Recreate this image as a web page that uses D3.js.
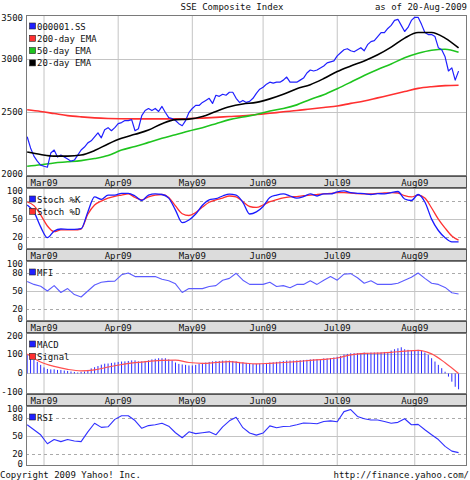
<!DOCTYPE html>
<html><head><meta charset="utf-8">
<script src="https://cdn.jsdelivr.net/npm/d3@7"></script>
<style>
body{margin:0;background:#fff}
svg{display:block}
text{font-family:"DejaVu Sans Mono","Liberation Mono",monospace;font-size:9px;fill:#111}
</style>
</head><body>
<svg id="c" width="470" height="480"></svg>
<script>
// ---- data (weekday index 0 = 23-Feb-2009, last = 20-Aug-2009) ----
const months   = ["Mar09","Apr09","May09","Jun09","Jul09","Aug09"];
const monthDay = [5, 27, 49, 70, 92, 115];

const close = [2292,2205,2143,2106,2077,2069,2062,2166,2189,2136,
  2151,2136,2121,2106,2114,2151,2189,2212,2244,2260,
  2292,2324,2284,2349,2366,2341,2366,2399,2408,2425,
  2425,2433,2341,2357,2467,2511,2529,2511,2529,2503,
  2547,2494,2450,2442,2425,2399,2382,2425,2494,2529,
  2556,2556,2583,2601,2620,2574,2648,2638,2657,2648,
  2676,2676,2620,2583,2601,2583,2592,2620,2666,2704,
  2723,2752,2771,2762,2771,2771,2791,2821,2771,2771,
  2771,2791,2811,2861,2891,2881,2891,2912,2932,2963,
  2974,2984,3037,3070,3102,3113,3091,3080,3102,3124,
  3091,3157,3191,3202,3247,3293,3293,3340,3376,3435,
  3448,3376,3305,3352,3435,3472,3472,3388,3293,3270,
  3270,3247,3124,3102,3026,2881,2912,2791,2880];

// EMAs sampled every 4 weekdays
const ema200 = [2518,2503,2485,2467,2456,2448,2443,2440,2439,2439,2439,2439,2442,2446,2452,2459,2465,2476,2487,2500,2511,2525,2538,2551,2574,2596,2624,2652,2682,2712,2728,2738,2742];
const ema50  = [2069,2080,2093,2101,2110,2125,2147,2189,2216,2248,2280,2308,2338,2366,2399,2433,2455,2476,2507,2529,2561,2610,2652,2709,2771,2836,2896,2953,3016,3064,3097,3107,3075];
const ema20  = [2174,2155,2143,2143,2151,2185,2236,2280,2312,2346,2399,2433,2437,2459,2503,2544,2569,2583,2615,2657,2709,2747,2806,2876,2932,2984,3048,3130,3230,3293,3293,3230,3121];

// oscillators sampled every 2 weekdays
const stochK = [72.5,61,36,18,29,32.5,32,32,33,61,
  86,82,89,89,92,92,87.5,80,89,91,
  90,84,64,43,47.5,57.5,72,81,83,87.5,
  90.5,89,77,57.5,61,70,85,89,91,87.5,
  84,86.5,91,87.5,91,91,94.5,96,93,92,
  91.5,90,91.5,91,93,95,82.5,80,90,77.5,
  49,30,18,11,11];
const stochD = [77.5,71.5,56,37.5,28,31,31,31,32.5,57,
  72.5,79,84,87,89,91,85,81,86,89,
  90,85,71,58,55,60,69,77,81,84,
  87.5,86,78,70,68.5,72.5,78,81.5,84.5,86,
  86.5,88,89,90,91,92,93,93,92.5,91.5,
  91,91,92,92.5,93,92.5,88,86,89,84,
  67.5,49,34,21,14];
const mfi = [66,61,58,50,59,47.5,54,44,40,50,
  60,64.5,66,66.5,77,80,74,74,74,74,
  69.5,67,62,47.5,54,54,54,57.5,59,68,
  71,79.5,68,61,61,61,64.5,57.5,59,55.5,
  61,61,67,61,68,74,68,78,79,72,
  63,67,61,61,61,63,68,73,80,71,
  63,61,56,47,45];
const rsi = [69,60.5,52,37,44,40.5,44,41.5,40.5,57,
  71.5,64.5,65.5,78,84,84,76,63,67.5,69,
  71.5,66.5,55.5,47,57,54,55.5,57,52,65.5,
  75.5,81.5,64,55,51.5,55,67,64,66,66.5,
  69,72,71.5,70.5,74.5,75.5,74,91,94.5,83,
  79,77,77,74.5,71.5,73,79,69,69.5,60.5,
  52,44,32.5,24.5,22];

// MACD daily, signal every 4 weekdays
const macd = [95,85,69,59,44,31,23,21,21,18,
  18,15,13,10,8,5,8,10,18,26,
  32,38,45,50,51,54,56,59,61,62,
  64,67,67,62,62,64,67,72,75,78,
  78,78,72,67,56,49,46,44,41,41,
  44,49,54,56,59,62,64,64,66,66,
  66,64,62,59,56,54,51,49,49,51,
  52,54,56,57,59,62,64,66,66,66,
  67,68,69,70,72,73,74,74,77,77,
  79,82,85,90,97,100,103,104,104,105,
  107,105,107,107,107,108,110,110,117,124,
  129,134,124,121,117,117,121,117,107,95,
  78,61,44,27,9,-16,-42,-68,-81];
const signal = [100,59,36,21,13,18,33,46,55,62,67,68,56,52,56,61,54,49,52,56,61,67,72,79,95,103,104,108,114,118,100,55,0];

const mainTicks = [2000,2500,3000,3500];
const oscTicks  = [0,20,50,80,100];
const macdTicks = [-100,0,100,200];

// ---- drawing ----
const svg = d3.select("#c");
const L = 26, R = 467;
const x = d3.scaleLinear().domain([-0.35, 130.5]).range([L, R]);
const dDay = d3.range(close.length);
const dWk  = d3.range(0, close.length, 4);
const dOsc = d3.range(0, close.length, 2);

const P = {
  main:  {top:15,  bottom:176},
  stoch: {top:188, bottom:249},
  mfi:   {top:261, bottom:321},
  macd:  {top:333, bottom:394},
  rsi:   {top:406, bottom:466}
};
const yMain  = d3.scaleLog().domain([2000,3500]).range([P.main.bottom, P.main.top]);
const yStoch = d3.scaleLinear().domain([0,100]).range([P.stoch.bottom-0.5, P.stoch.top+0.5]);
const yMfi   = d3.scaleLinear().domain([0,100]).range([P.mfi.bottom, P.mfi.top]);
const yMacd  = d3.scaleLinear().domain([-105,207]).range([P.macd.bottom, P.macd.top]);
const yRsi   = d3.scaleLinear().domain([0,100]).range([P.rsi.bottom-0.3, P.rsi.top+0.3]);

const GRID = "#c4c4c4", FRAME = "#7a7a7a";

function panel(p, y, ticks, solid, dashed) {
  const g = svg.append("g");
  g.append("rect").attr("x", L).attr("y", p.top).attr("width", R-L).attr("height", p.bottom-p.top).attr("fill", "#fff");
  g.selectAll(".vg").data(monthDay).join("line")
    .attr("x1", d => x(d)).attr("x2", d => x(d)).attr("y1", p.top).attr("y2", p.bottom)
    .attr("stroke", GRID).attr("stroke-width", 1);
  g.selectAll(".hs").data(solid).join("line")
    .attr("x1", L).attr("x2", R).attr("y1", d => Math.round(y(d))+0.5).attr("y2", d => Math.round(y(d))+0.5)
    .attr("stroke", GRID).attr("stroke-width", 1);
  g.selectAll(".hd").data(dashed).join("line")
    .attr("x1", L).attr("x2", R).attr("y1", d => Math.round(y(d))+0.5).attr("y2", d => Math.round(y(d))+0.5)
    .attr("stroke", "#aaa").attr("stroke-width", 1).attr("stroke-dasharray", "3,3");
  svg.append("g").selectAll("text").data(ticks).join("text")
    .attr("x", 23).attr("text-anchor", "end").attr("dominant-baseline", "central")
    .attr("y", d => Math.max(p.top+3.2, Math.min(p.bottom-2, y(d))))
    .text(d => d);
  return g;
}
function frame(p) {
  svg.append("rect").attr("x", L+0.5).attr("y", p.top+0.5).attr("width", R-L-1).attr("height", p.bottom-p.top-1)
    .attr("fill", "none").attr("stroke", FRAME).attr("stroke-width", 1);
}
function band(y0, y1) {
  svg.append("rect").attr("x", L+0.5).attr("y", y0+0.5).attr("width", R-L-1).attr("height", y1-y0-1)
    .attr("fill", "#dcdcdc").attr("stroke", "#555").attr("stroke-width", 1);
  svg.append("g").selectAll("text").data(months).join("text")
    .attr("x", (d,i) => x(monthDay[i])).attr("y", (y0+y1)/2+0.5)
    .attr("text-anchor", "middle").attr("dominant-baseline", "central").text(d => d);
}
function line(idx, vals, y, color, w, curve) {
  svg.append("path").datum(vals)
    .attr("fill", "none").attr("stroke", color).attr("stroke-width", w).attr("stroke-linejoin", "round")
    .attr("d", d3.line().x((d,i) => x(idx[i])).y(d => y(d)).curve(curve || d3.curveLinear));
}
function legend(p, items) {
  const g = svg.append("g");
  items.forEach((it, k) => {
    const cy = p.top + 11 + k*12.3;
    g.append("rect").attr("x", 29.5).attr("y", cy-3).attr("width", 6).attr("height", 6)
      .attr("fill", it[1]).attr("stroke", "#222").attr("stroke-width", 0.6);
    g.append("text").attr("x", 37).attr("y", cy+0.5).attr("dominant-baseline", "central").text(it[0]);
  });
}

// title
svg.append("text").attr("x", 232).attr("y", 6.5).attr("text-anchor", "middle").attr("dominant-baseline", "central").text("SSE Composite Index");
svg.append("text").attr("x", 467).attr("y", 6.5).attr("text-anchor", "end").attr("dominant-baseline", "central").text("as of 20-Aug-2009");

// main price panel
panel(P.main, yMain, mainTicks, [2500, 3000], []);
line(dWk, ema200, yMain, "#ff3030", 1.6, d3.curveMonotoneX);
line(dWk, ema50,  yMain, "#1ec41e", 1.6, d3.curveMonotoneX);
line(dDay, close, yMain, "#2020ff", 1.2);
line(dWk, ema20,  yMain, "#000", 1.6, d3.curveMonotoneX);
frame(P.main);
legend(P.main, [["000001.SS","#2020ff"],["200-day EMA","#ff3030"],["50-day EMA","#1ec41e"],["20-day EMA","#000"]]);
band(P.main.bottom, P.stoch.top);

// stochastic
panel(P.stoch, yStoch, oscTicks, [50], [20, 80]);
line(dOsc, stochD, yStoch, "#ff3030", 1.3, d3.curveMonotoneX);
line(dOsc, stochK, yStoch, "#1a1aff", 1.3, d3.curveMonotoneX);
frame(P.stoch);
legend(P.stoch, [["Stoch %K","#2020ff"],["Stoch %D","#ff3030"]]);
band(P.stoch.bottom, P.mfi.top);

// MFI
panel(P.mfi, yMfi, oscTicks, [50], [20, 80]);
line(dOsc, mfi, yMfi, "#5c5cff", 1.1);
frame(P.mfi);
legend(P.mfi, [["MFI","#2020ff"]]);
band(P.mfi.bottom, P.macd.top);

// MACD
panel(P.macd, yMacd, macdTicks, [0, 100], []);
svg.append("g").selectAll("line").data(macd).join("line")
  .attr("x1", (d,i) => x(dDay[i])).attr("x2", (d,i) => x(dDay[i]))
  .attr("y1", yMacd(0)).attr("y2", d => yMacd(d))
  .attr("stroke", "#2a2aff").attr("stroke-width", 1);
line(dWk, signal, yMacd, "#ff5050", 1.2, d3.curveMonotoneX);
frame(P.macd);
legend(P.macd, [["MACD","#2020ff"],["Signal","#ff3030"]]);
band(P.macd.bottom, P.rsi.top);

// RSI
panel(P.rsi, yRsi, oscTicks, [50], [20, 80]);
line(dOsc, rsi, yRsi, "#3030ff", 1.1);
frame(P.rsi);
legend(P.rsi, [["RSI","#2020ff"]]);

// footer
svg.append("text").attr("x", 0).attr("y", 474.5).attr("dominant-baseline", "central").text("Copyright 2009 Yahoo! Inc.");
svg.append("text").attr("x", 469).attr("y", 474.5).attr("text-anchor", "end").attr("dominant-baseline", "central").text("http://finance.yahoo.com/");
</script>
</body></html>
